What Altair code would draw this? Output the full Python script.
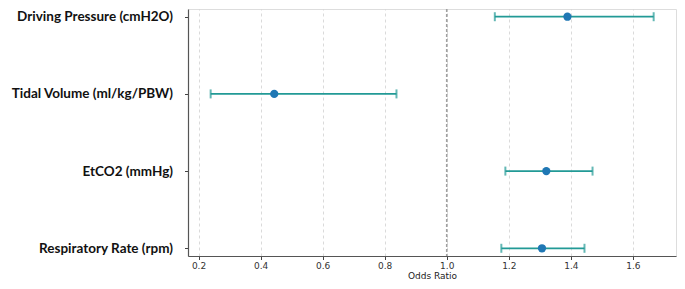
import altair as alt
import pandas as pd

variables = ["Driving Pressure (cmH2O)", "Tidal Volume (ml/kg/PBW)", "EtCO2 (mmHg)", "Respiratory Rate (rpm)"]
odds_ratio = [1.389, 0.444, 1.321, 1.307]
ci_low = [1.155, 0.239, 1.189, 1.176]
ci_high = [1.667, 0.838, 1.470, 1.444]
x_ticks = [0.2, 0.4, 0.6, 0.8, 1.0, 1.2, 1.4, 1.6]
ref_value = [1.0]

df = pd.DataFrame({"var": variables, "or": odds_ratio, "lo": ci_low, "hi": ci_high})
ref = pd.DataFrame({"ref": ref_value})

xscale = alt.Scale(domain=[0.166, 1.739], nice=False, zero=False)
yscale = alt.Scale(type="point", domain=variables, padding=0.1)

xaxis = alt.Axis(values=x_ticks, format=".1f", title="Odds Ratio", grid=True,
                 gridDash=[3, 3], gridColor="#d0d0d0", gridWidth=0.8,
                 labelFont="DejaVu Sans", labelFontSize=9, labelColor="#333333",
                 titleFont="DejaVu Sans", titleFontSize=9, titleFontWeight="normal",
                 titleColor="#222222", titlePadding=1,
                 domainColor="#555555", domainWidth=1.2, tickColor="#444444", tickSize=3.5,
                 labelPadding=2)
yaxis = alt.Axis(title=None, grid=False, labelFont="Lato", labelFontWeight="bold",
                 labelFontSize=13.5, labelColor="#111111", labelPadding=12,
                 domainColor="#555555", domainWidth=1.2, tickColor="#444444", tickSize=3.5)

base = alt.Chart(df)

bars = base.mark_rule(color="#229a96", strokeWidth=1.8).encode(
    x=alt.X("lo:Q", scale=xscale, axis=xaxis),
    x2="hi:Q",
    y=alt.Y("var:N", scale=yscale, axis=yaxis, sort=variables),
)
cap_lo = base.mark_tick(color="#229a96", orient="vertical", size=9, thickness=2).encode(
    x=alt.X("lo:Q", scale=xscale), y=alt.Y("var:N", scale=yscale, sort=variables))
cap_hi = base.mark_tick(color="#229a96", orient="vertical", size=9, thickness=2).encode(
    x=alt.X("hi:Q", scale=xscale), y=alt.Y("var:N", scale=yscale, sort=variables))
pts = base.mark_circle(color="#1f77b4", size=68, opacity=1).encode(
    x=alt.X("or:Q", scale=xscale), y=alt.Y("var:N", scale=yscale, sort=variables))

refline = alt.Chart(ref).mark_rule(color="#a0a0a0", strokeWidth=1.6, strokeDash=[3, 2]).encode(
    x=alt.X("ref:Q", scale=xscale))

chart = alt.layer(refline, bars, cap_lo, cap_hi, pts).properties(
    width=669, height=273,
    autosize=alt.AutoSizeParams(type="fit", contains="padding"),
    padding={"left": 2, "top": 0, "right": 1, "bottom": 0},
).configure_view(stroke="#777777", strokeWidth=1.2).configure(background="white")

chart.save("out.html", embed_options={"renderer": "svg", "actions": False})
